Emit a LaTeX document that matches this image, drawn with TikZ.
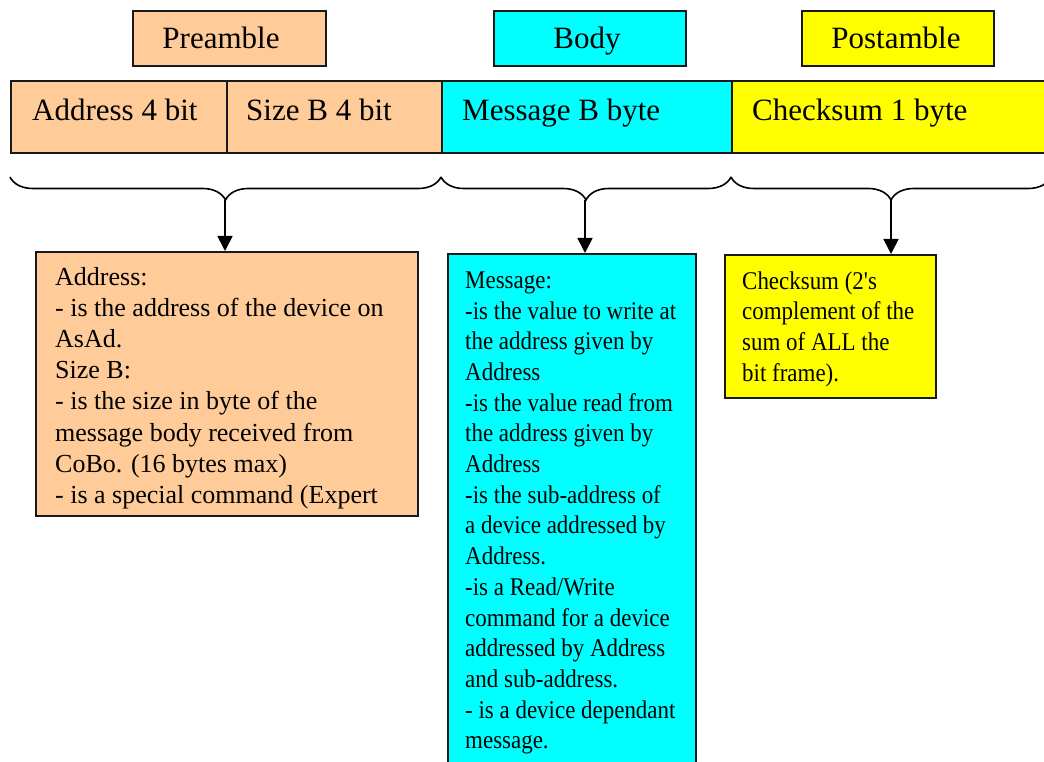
\documentclass[tikz,border=0pt]{standalone}
\usepackage{fontspec}
\setmainfont{Liberation Serif}
\newfontfamily\narrowfont[FakeStretch=0.9]{Liberation Serif}
\usetikzlibrary{decorations.pathreplacing,arrows.meta}
\definecolor{peach}{HTML}{FFCC99}
\definecolor{aqua}{HTML}{00FFFF}
\definecolor{yel}{HTML}{FFFF00}
\tikzset{
  cell/.style={draw=black!90, line width=1.7pt, inner sep=0pt, anchor=north west},
  big/.style={font=\fontsize{31}{36}\selectfont, inner sep=0pt},
  lbl/.style={big, anchor=base},
  fld/.style={big, anchor=base west},
  desc/.style={anchor=base west, inner sep=0pt, font=\fontsize{26}{31.1}\selectfont},
  ndesc/.style={anchor=base west, inner sep=0pt, font=\narrowfont\fontsize{25.5}{30.7}\selectfont},
  curly/.style={decorate, decoration={brace, amplitude=23pt, mirror}, line width=1.6pt},
  arr/.style={line width=1.7pt, -{Triangle[width=15pt,length=15pt]}}
}
\begin{document}
\begin{tikzpicture}[x=1pt,y=-1pt]
\useasboundingbox (0,0) rectangle (1044,762);
% top labels
\node[cell, fill=peach, minimum width=193pt, minimum height=55pt] (pre) at (132,10) {};
\node[cell, fill=aqua, minimum width=192pt, minimum height=55pt] (bod) at (493,10) {};
\node[cell, fill=yel, minimum width=192pt, minimum height=55pt] (post) at (801,10) {};
\node[lbl] (pret) at (221,49) {Preamble};
\node[lbl] (bodt) at (587,49) {Body};
\node[lbl] (postt) at (896,49) {Postamble};
% frame row
\node[cell, fill=peach, minimum width=216pt, minimum height=72pt] (fa) at (10,80) {};
\node[cell, fill=peach, minimum width=215pt, minimum height=72pt] (fs) at (226,80) {};
\node[cell, fill=aqua, minimum width=290pt, minimum height=72pt] (fm) at (441,80) {};
\node[cell, fill=yel, minimum width=330pt, minimum height=72pt] (fc) at (731,80) {};
\node[fld] (fat) at (32,120.5) {Address 4 bit};
\node[fld] (fst) at (246,120.5) {Size B 4 bit};
\node[fld] (fmt) at (462,120.5) {Message B byte};
\node[fld] (fct) at (752,120.5) {Checksum 1 byte};
% braces
\draw[curly] (10,177) -- (441,177);
\draw[curly] (441,177) -- (731,177);
\draw[curly] (731,177) -- (1051,177);
\coordinate (b1) at (225,200);
\coordinate (b2) at (585,200);
\coordinate (b3) at (891,200);
% description boxes
\node[cell, fill=peach, minimum width=382pt, minimum height=264pt] (da) at (35,251) {};
\node[cell, fill=aqua, minimum width=248pt, minimum height=530pt] (dm) at (447,253) {};
\node[cell, fill=yel, minimum width=211pt, minimum height=143pt] (dc) at (724,254) {};
\draw[arr] (b1) -- (b1 |- da.north);
\draw[arr] (b2) -- (b2 |- dm.north);
\draw[arr] (b3) -- (b3 |- dc.north);
\node[desc] (dat) at (55,285.5) {\parbox[t]{360pt}{Address:\\
- is the address of the device on\\
AsAd.\\
Size B:\\
- is the size in byte of the\\
message body received from\\
CoBo. (16 bytes max)\\
- is a special command (Expert}};
\node[ndesc] (dmt) at (465,288.3) {\parbox[t]{240pt}{Message:\\
-is the value to write at\\
the address given by\\
Address\\
-is the value read from\\
the address given by\\
Address\\
-is the sub-address of\\
a device addressed by\\
Address.\\
-is a Read/Write\\
command for a device\\
addressed by Address\\
and sub-address.\\
- is a device dependant\\
message.}};
\node[ndesc] (dct) at (742,289) {\parbox[t]{200pt}{Checksum (2's\\
complement of the\\
sum of ALL the\\
bit frame).}};
\end{tikzpicture}
\end{document}
